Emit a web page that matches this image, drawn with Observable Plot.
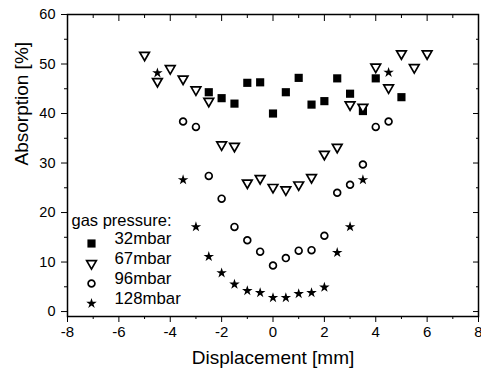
<!DOCTYPE html>
<html><head><meta charset="utf-8">
<script src="https://cdn.jsdelivr.net/npm/d3@7"></script>
<script src="https://cdn.jsdelivr.net/npm/@observablehq/plot@0.6"></script>
<style>body{margin:0;background:#fff} svg{display:block}</style>
</head><body><div id="chart"></div>
<script>
// Data
const labels = ["32mbar", "67mbar", "96mbar", "128mbar"];
const legendTitle = "gas pressure:";
const xs32 = [-2.5,-2,-1.5,-1,-0.5,0,0.5,1,1.5,2,2.5,3,3.5,4,5];
const ys32 = [44.3,43.1,42.0,46.2,46.3,40.0,44.3,47.2,41.8,42.5,47.1,44.0,40.5,47.1,43.3];
const xs67 = [-5,-4.5,-4,-3.5,-3,-2.5,-2,-1.5,-1,-0.5,0,0.5,1,1.5,2,2.5,3,3.5,4,4.5,5,5.5,6];
const ys67 = [51.8,46.5,49.1,47.0,44.8,42.5,33.7,33.4,26.0,26.9,25.1,24.6,25.6,27.1,31.8,33.2,41.8,41.3,49.4,45.2,52.1,49.3,52.1];
const xs96 = [-3.5,-3,-2.5,-2,-1.5,-1,-0.5,0,0.5,1,1.5,2,2.5,3,3.5,4,4.5];
const ys96 = [38.4,37.3,27.4,22.8,17.1,14.4,12.1,9.3,10.8,12.3,12.4,15.3,24.0,25.6,29.7,37.3,38.4];
const xs128 = [-4.5,-3.5,-3,-2.5,-2,-1.5,-1,-0.5,0,0.5,1,1.5,2,2.5,3,3.5,4.5];
const ys128 = [48.2,26.6,17.1,11.1,7.8,5.5,4.2,3.8,2.8,2.8,3.6,3.8,4.9,11.9,17.1,26.6,48.3];
const xTicks = [-8,-6,-4,-2,0,2,4,6,8];
const xMinor = [-7,-5,-3,-1,1,3,5,7];
const yTicks = [0,10,20,30,40,50,60];
const yMinor = [5,15,25,35,45,55];
const xLabel = "Displacement [mm]";
const yLabel = "Absorption [%]";

const seriesX = [xs32, xs67, xs96, xs128];
const seriesY = [ys32, ys67, ys96, ys128];
const styles = [
  {symbol: "square", fill: "black", stroke: "none", r: 4.6, rotate: 0, strokeWidth: 0},
  {symbol: "triangle", fill: "white", stroke: "black", r: 3.6, rotate: 180, strokeWidth: 1.7},
  {symbol: "circle", fill: "white", stroke: "black", r: 3.4, rotate: 0, strokeWidth: 1.7},
  {symbol: "star", fill: "black", stroke: "none", r: 3.3, rotate: 0, strokeWidth: 0}
];

const font = "'Liberation Sans', Arial, sans-serif";
const dataMarks = [];
const legendMarks = [];
labels.forEach((lab, i) => {
  const rows = seriesX[i].map((x, j) => ({x, y: seriesY[i][j], series: lab}));
  const s = styles[i];
  dataMarks.push(Plot.dot(rows, {x: "x", y: "y", symbol: () => s.symbol, r: s.r, fill: s.fill, stroke: s.stroke, strokeWidth: s.strokeWidth, rotate: s.rotate}));
  const dy = -73 + 20 * i;
  legendMarks.push(Plot.dot([lab], {frameAnchor: "bottom-left", dx: 24, dy, symbol: () => s.symbol, r: s.r, fill: s.fill, stroke: s.stroke, strokeWidth: s.strokeWidth, rotate: s.rotate}));
  legendMarks.push(Plot.text([lab], {frameAnchor: "bottom-left", dx: 47, dy, text: d => d, textAnchor: "start", fontSize: 16.8, fill: "black"}));
});
legendMarks.push(Plot.text([legendTitle], {frameAnchor: "bottom-left", dx: 4, dy: -91, text: d => d, textAnchor: "start", fontSize: 16.5, fill: "black"}));

const plot = Plot.plot({
  width: 481,
  height: 372,
  marginLeft: 67,
  marginRight: 3,
  marginTop: 14,
  marginBottom: 56,
  style: {fontFamily: font, background: "white", color: "black"},
  x: {domain: [-8, 8]},
  y: {domain: [-1, 60]},
  marks: [
    Plot.axisX({ticks: xTicks, tickSize: 6, tickPadding: 4, fontSize: 15, label: null, tickFormat: d => d < 0 ? "-" + Math.abs(d) : String(d)}),
    Plot.axisX({ticks: xMinor, tickSize: 3, text: null, label: null}),
    Plot.axisX({anchor: "top", ticks: xTicks, tickSize: -6, text: null, label: null}),
    Plot.axisX({anchor: "top", ticks: xMinor, tickSize: -3, text: null, label: null}),
    Plot.axisY({ticks: yTicks, tickSize: 6, tickPadding: 6, fontSize: 14.5, label: null}),
    Plot.axisY({ticks: yMinor, tickSize: 3, text: null, label: null}),
    Plot.axisY({anchor: "right", ticks: yTicks, tickSize: -6, text: null, label: null}),
    Plot.axisY({anchor: "right", ticks: yMinor, tickSize: -3, text: null, label: null}),
    Plot.frame({stroke: "black", strokeWidth: 1.5}),
    Plot.text([xLabel], {frameAnchor: "bottom", dy: 47, text: d => d, fontSize: 19, fill: "black"}),
    Plot.text([yLabel], {frameAnchor: "left", dx: -46, rotate: -90, text: d => d, fontSize: 19, fill: "black"}),
    ...dataMarks,
    ...legendMarks
  ]
});
document.getElementById("chart").appendChild(plot);
</script>
</body></html>
